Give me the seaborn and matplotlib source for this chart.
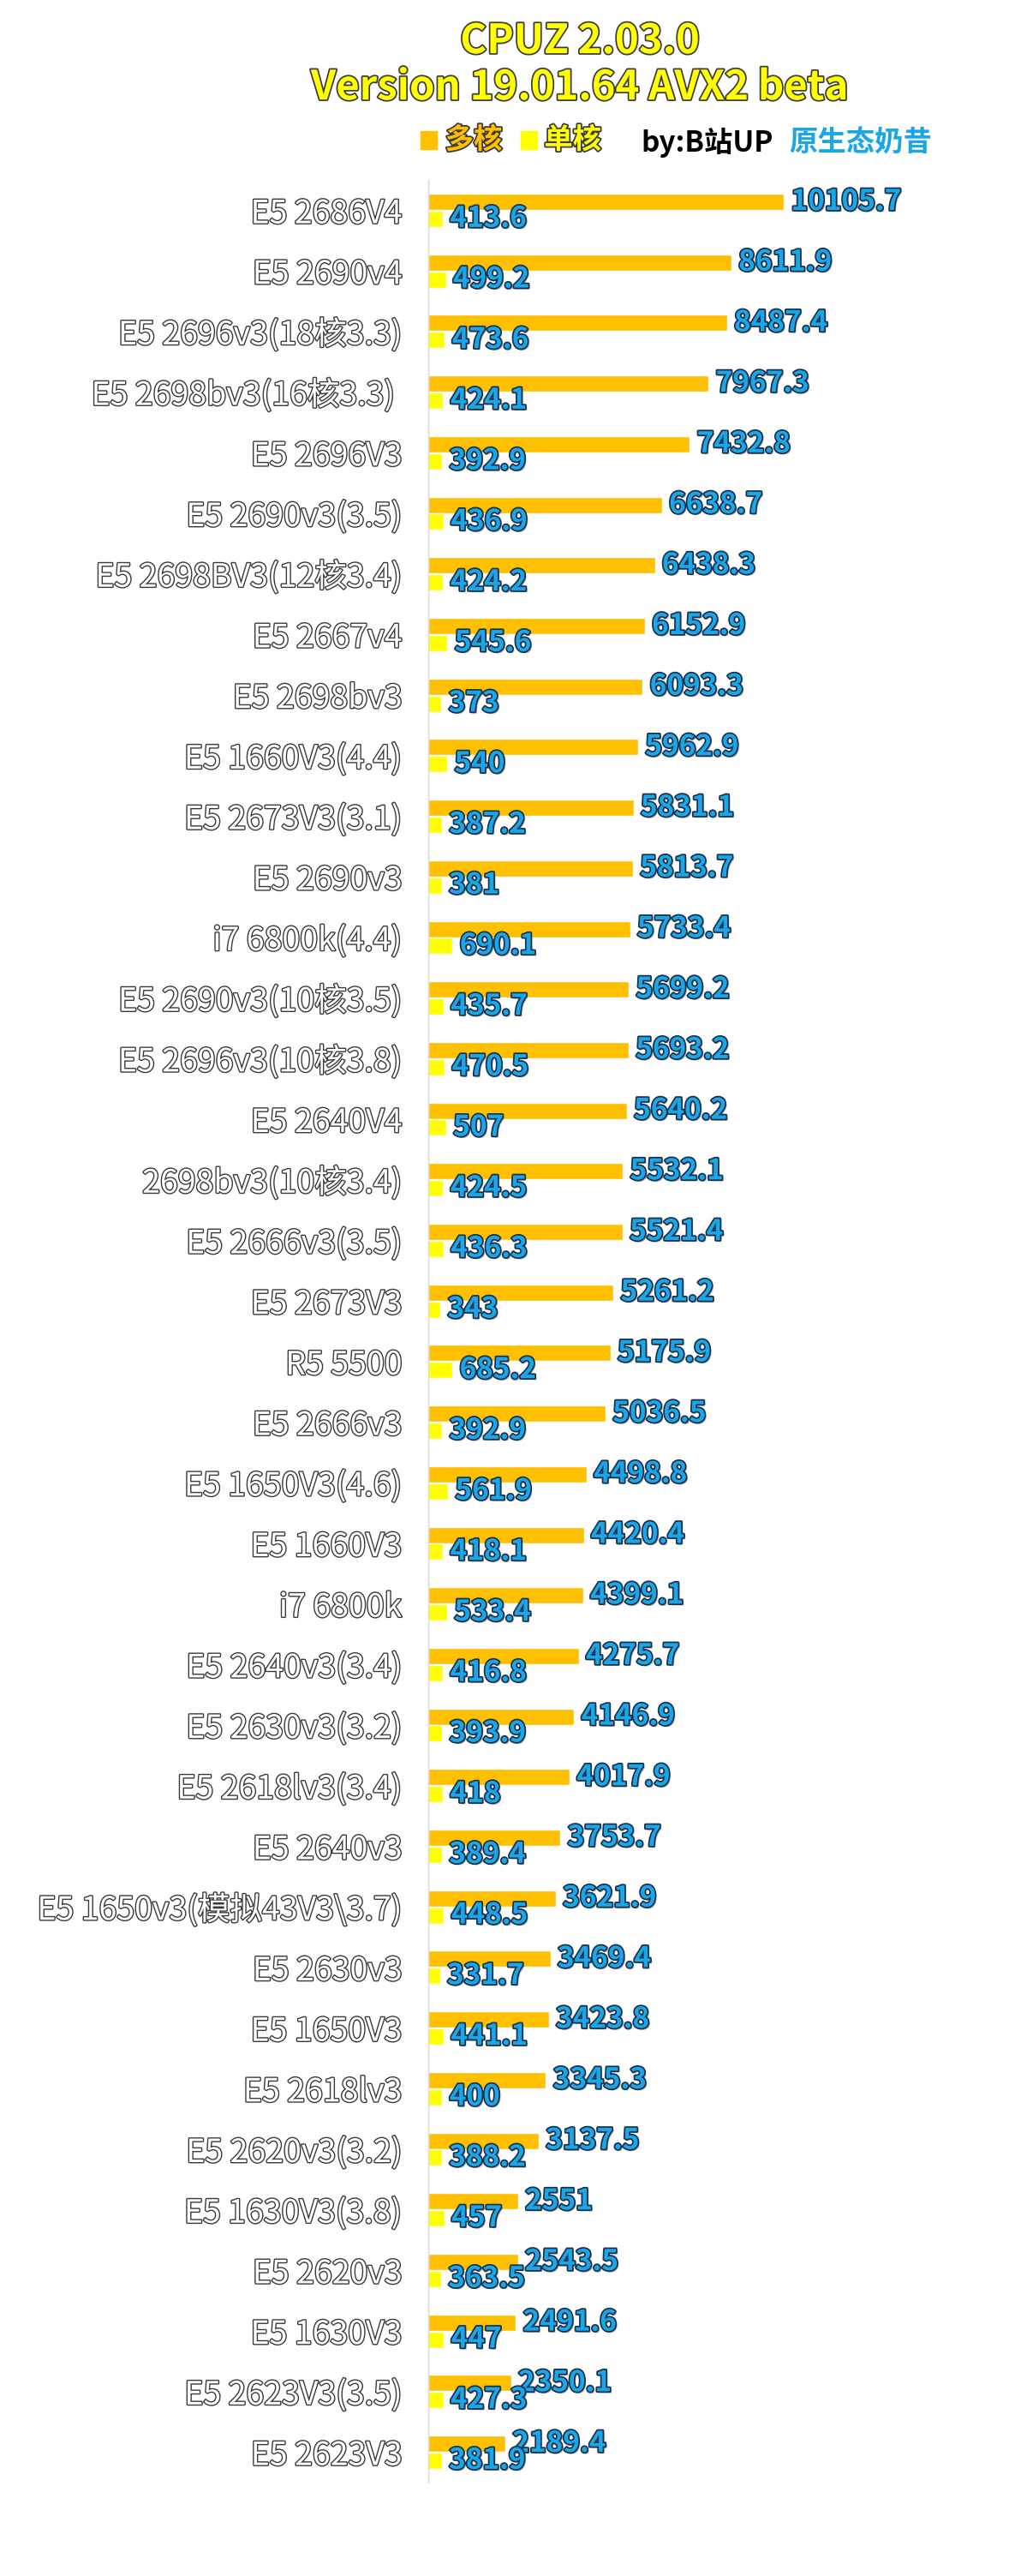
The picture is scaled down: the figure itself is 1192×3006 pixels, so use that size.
import pandas as pd
import matplotlib
matplotlib.use('Agg')
import matplotlib.pyplot as plt
import matplotlib.patheffects as pe
import seaborn as sns

cpus = ['E5 2686V4', 'E5 2690v4', 'E5 2696v3(18核3.3)', 'E5 2698bv3(16核3.3) ', 'E5 2696V3',
        'E5 2690v3(3.5)', 'E5 2698BV3(12核3.4)', 'E5 2667v4', 'E5 2698bv3', 'E5 1660V3(4.4)',
        'E5 2673V3(3.1)', 'E5 2690v3', 'i7 6800k(4.4)', 'E5 2690v3(10核3.5)', 'E5 2696v3(10核3.8)',
        'E5 2640V4', '2698bv3(10核3.4)', 'E5 2666v3(3.5)', 'E5 2673V3', 'R5 5500',
        'E5 2666v3', 'E5 1650V3(4.6)', 'E5 1660V3', 'i7 6800k', 'E5 2640v3(3.4)',
        'E5 2630v3(3.2)', 'E5 2618lv3(3.4)', 'E5 2640v3', 'E5 1650v3(模拟43V3\\3.7)', 'E5 2630v3',
        'E5 1650V3', 'E5 2618lv3', 'E5 2620v3(3.2)', 'E5 1630V3(3.8)', 'E5 2620v3',
        'E5 1630V3', 'E5 2623V3(3.5)', 'E5 2623V3']
multi = [10105.7, 8611.9, 8487.4, 7967.3, 7432.8, 6638.7, 6438.3, 6152.9, 6093.3, 5962.9,
         5831.1, 5813.7, 5733.4, 5699.2, 5693.2, 5640.2, 5532.1, 5521.4, 5261.2, 5175.9,
         5036.5, 4498.8, 4420.4, 4399.1, 4275.7, 4146.9, 4017.9, 3753.7, 3621.9, 3469.4,
         3423.8, 3345.3, 3137.5, 2551, 2543.5, 2491.6, 2350.1, 2189.4]
single = [413.6, 499.2, 473.6, 424.1, 392.9, 436.9, 424.2, 545.6, 373, 540,
          387.2, 381, 690.1, 435.7, 470.5, 507, 424.5, 436.3, 343, 685.2,
          392.9, 561.9, 418.1, 533.4, 416.8, 393.9, 418, 389.4, 448.5, 331.7,
          441.1, 400, 388.2, 457, 363.5, 447, 427.3, 381.9]
series = ['多核', '单核']

ORANGE = '#FFC000'
YELLOW = '#FFFF00'
BLUE = '#1AA7E8'

df = pd.DataFrame({
    'cpu': cpus * 2,
    'score': multi + single,
    'kind': [series[0]] * len(cpus) + [series[1]] * len(cpus),
})

sns.set_style('white')
plt.rcParams['font.family'] = ['Noto Sans CJK SC', 'DejaVu Sans']

fig = plt.figure(figsize=(11.92, 30.06), dpi=100)
ax = fig.add_axes([0.4195, 0.0363, 0.5505, 0.8938])
sns.barplot(data=df, y='cpu', x='score', hue='kind', hue_order=series, orient='h',
            palette=[ORANGE, YELLOW], width=0.56, gap=0.04, saturation=1,
            legend=False, ax=ax)

ax.set_xlim(0, 15975)
ax.set_ylim(len(cpus) - 0.5, -0.5)
ax.set_xlabel('')
ax.set_ylabel('')
ax.set_xticks([])
for s in ['top', 'right', 'bottom']:
    ax.spines[s].set_visible(False)
ax.spines['left'].set_color('#d9d9d9')
ax.spines['left'].set_linewidth(1)
ax.tick_params(axis='y', length=0, pad=22)

outline_white = [pe.Stroke(linewidth=2.0, foreground='#3a3a3a'), pe.Normal()]
for lbl in ax.get_yticklabels():
    lbl.set_fontsize(27)
    lbl.set_color('white')
    lbl.set_path_effects(outline_white)

blue_fx = [pe.withSimplePatchShadow(offset=(1.5, -1.5), shadow_rgbFace='#808080', alpha=0.6),
           pe.Stroke(linewidth=2.5, foreground='#1b2f4a'), pe.Normal()]
for cont in ax.containers:
    for bar, v in zip(cont, cont.datavalues):
        y = bar.get_y() + bar.get_height() / 2
        ax.annotate(f'{v:g}', (bar.get_width(), y), xytext=(6, 0), textcoords='offset points',
                    ha='left', va='center', fontsize=24, fontweight='bold', color=BLUE,
                    path_effects=blue_fx)

yel_fx = [pe.Stroke(linewidth=2.5, foreground='#3a3a3a'), pe.Normal()]
fig.text(0.568, 0.984, 'CPUZ 2.03.0', ha='center', va='center', fontsize=34,
         fontweight='bold', color=YELLOW, path_effects=yel_fx)
fig.text(0.568, 0.966, 'Version 19.01.64 AVX2 beta', ha='center', va='center', fontsize=34,
         fontweight='bold', color=YELLOW, path_effects=yel_fx)

ly = 0.9455
fig.patches.append(plt.Rectangle((0.412, ly - 0.0035), 0.016, 0.007, color=ORANGE,
                                 transform=fig.transFigure))
fig.text(0.436, ly, series[0], ha='left', va='center', fontsize=24, fontweight='bold',
         color=ORANGE, path_effects=yel_fx)
fig.patches.append(plt.Rectangle((0.51, ly - 0.0035), 0.016, 0.007, color=YELLOW,
                                 transform=fig.transFigure))
fig.text(0.533, ly, series[1], ha='left', va='center', fontsize=24, fontweight='bold',
         color=YELLOW, path_effects=yel_fx)
fig.text(0.628, ly - 0.001, 'by:B站UP', ha='left', va='center', fontsize=24,
         fontweight='bold', color='black')
fig.text(0.773, ly - 0.001, '原生态奶昔', ha='left', va='center', fontsize=24,
         fontweight='bold', color=BLUE)

fig.savefig('out.png', dpi=100, facecolor='white')
